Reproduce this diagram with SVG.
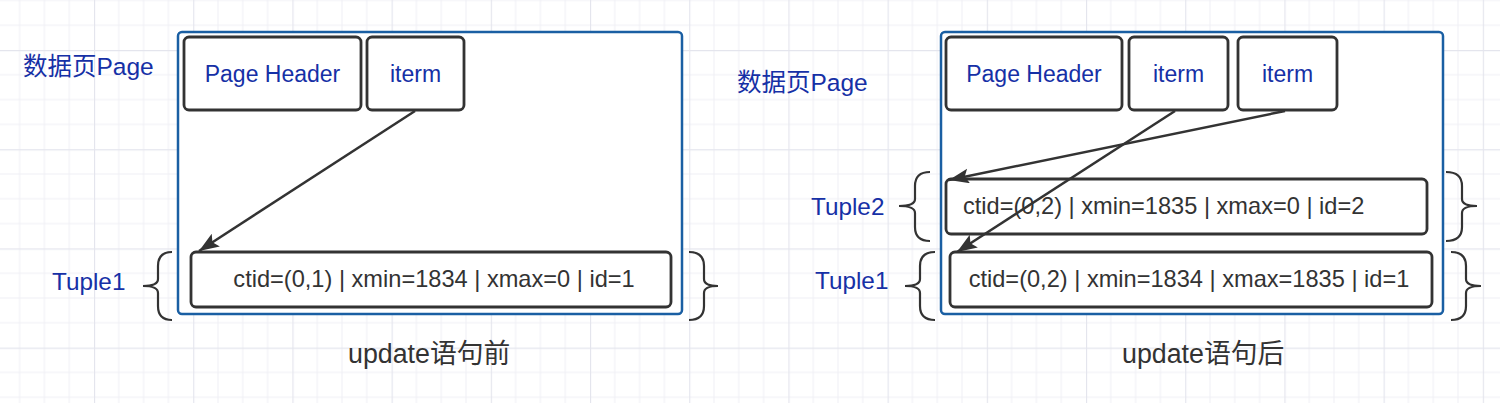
<svg xmlns="http://www.w3.org/2000/svg" width="1500" height="403" viewBox="0 0 1500 403">
<defs>
<pattern id="grid" patternUnits="userSpaceOnUse" x="94" y="50" width="99.2" height="99.2">
<path d="M24.8,0V99.2M49.6,0V99.2M74.4,0V99.2M0,24.8H99.2M0,49.6H99.2M0,74.4H99.2" stroke="#f0f0f5" stroke-width="1" fill="none"/>
<path d="M0.5,0V99.2M0,0.5H99.2" stroke="#e4e5ed" stroke-width="1.3" fill="none"/>
</pattern>
<marker id="arr" markerUnits="userSpaceOnUse" markerWidth="22" markerHeight="16" refX="20" refY="7.5" orient="auto">
<path d="M0,0 L20,7.5 L0,15 L4,7.5 z" fill="#333"/>
</marker>
</defs>
<style>
.page{fill:#fff;stroke:#1a5fa3;stroke-width:2.5}
.box{fill:#fff;stroke:#333;stroke-width:2.8}
.lbl{font-family:"Liberation Sans","Noto Sans CJK SC",sans-serif;font-size:23px;fill:#1630a6;dominant-baseline:central}
.side{font-size:24.3px}
.title{font-size:24.5px}
.tup{font-family:"Liberation Sans","Noto Sans CJK SC",sans-serif;font-size:23.6px;fill:#333;dominant-baseline:central}
.cap{font-family:"Liberation Sans","Noto Sans CJK SC",sans-serif;font-size:26.8px;fill:#333;dominant-baseline:central}
.brace{fill:none;stroke:#333;stroke-width:2.2}
.conn{stroke:#333;stroke-width:2.5;fill:none}
</style>
<rect width="1500" height="403" fill="#fff"/>
<rect width="1500" height="403" fill="url(#grid)"/>

<g id="left-page">
<rect class="page" x="178" y="32" width="504" height="282" rx="4"/>
<text class="lbl title" x="23" y="66">数据页Page</text>
</g>
<g id="left-header">
<rect class="box" x="184" y="37" width="177" height="73" rx="5"/>
<text class="lbl" x="272.5" y="74" text-anchor="middle">Page Header</text>
</g>
<g id="left-iterm">
<rect class="box" x="367" y="37" width="97" height="73" rx="5"/>
<text class="lbl" x="415.5" y="74" text-anchor="middle">iterm</text>
</g>
<g id="left-tuple1">
<rect class="box" x="191" y="252" width="480" height="55" rx="5"/>
<text class="tup" x="434" y="279" text-anchor="middle">ctid=(0,1) | xmin=1834 | xmax=0 | id=1</text>
<path class="brace" d="M172,252 Q158,252 158,266 L158,279 Q158,286 143,286 Q158,286 158,293 L158,306 Q158,320 172,320"/>
<path class="brace" d="M689,252 Q704,252 704,266 L704,279 Q704,286 718,286 Q704,286 704,293 L704,306 Q704,320 689,320"/>
<text class="lbl side" x="52" y="281">Tuple1</text>
</g>
<g id="left-caption">
<text class="cap" x="348" y="354">update语句前</text>
</g>

<g id="right-page">
<rect class="page" x="941" y="32" width="502" height="282" rx="4"/>
<text class="lbl title" x="737" y="82">数据页Page</text>
</g>
<g id="right-header">
<rect class="box" x="946" y="37" width="176" height="73" rx="5"/>
<text class="lbl" x="1034" y="74" text-anchor="middle">Page Header</text>
</g>
<g id="right-iterm1">
<rect class="box" x="1129" y="37" width="99" height="73" rx="5"/>
<text class="lbl" x="1178.5" y="74" text-anchor="middle">iterm</text>
</g>
<g id="right-iterm2">
<rect class="box" x="1238" y="37" width="99" height="73" rx="5"/>
<text class="lbl" x="1287.5" y="74" text-anchor="middle">iterm</text>
</g>
<g id="right-tuple2">
<rect class="box" x="946" y="179" width="481" height="55" rx="5"/>
<text class="tup" x="963" y="206">ctid=(0,2) | xmin=1835 | xmax=0 | id=2</text>
<path class="brace" d="M930,172 Q915,172 915,186 L915,199 Q915,206 899,206 Q915,206 915,213 L915,227 Q915,241 930,241"/>
<path class="brace" d="M1446,172 Q1462,172 1462,186 L1462,199 Q1462,206 1477,206 Q1462,206 1462,213 L1462,227 Q1462,241 1446,241"/>
<text class="lbl side" x="811" y="206">Tuple2</text>
</g>
<g id="right-tuple1">
<rect class="box" x="950" y="252" width="482" height="55" rx="5"/>
<text class="tup" x="1189" y="279" text-anchor="middle">ctid=(0,2) | xmin=1834 | xmax=1835 | id=1</text>
<path class="brace" d="M935,252 Q920,252 920,266 L920,279 Q920,286 905,286 Q920,286 920,293 L920,306 Q920,320 935,320"/>
<path class="brace" d="M1451,252 Q1466,252 1466,266 L1466,279 Q1466,286 1481,286 Q1466,286 1466,293 L1466,306 Q1466,320 1451,320"/>
<text class="lbl side" x="815" y="280">Tuple1</text>
</g>
<g id="right-caption">
<text class="cap" x="1122" y="354">update语句后</text>
</g>

<g id="connectors">
<line class="conn" x1="415" y1="111" x2="199" y2="251" marker-end="url(#arr)"/>
<line class="conn" x1="1175" y1="111" x2="957" y2="252" marker-end="url(#arr)"/>
<line class="conn" x1="1285" y1="111" x2="949" y2="180" marker-end="url(#arr)"/>
</g>
</svg>
